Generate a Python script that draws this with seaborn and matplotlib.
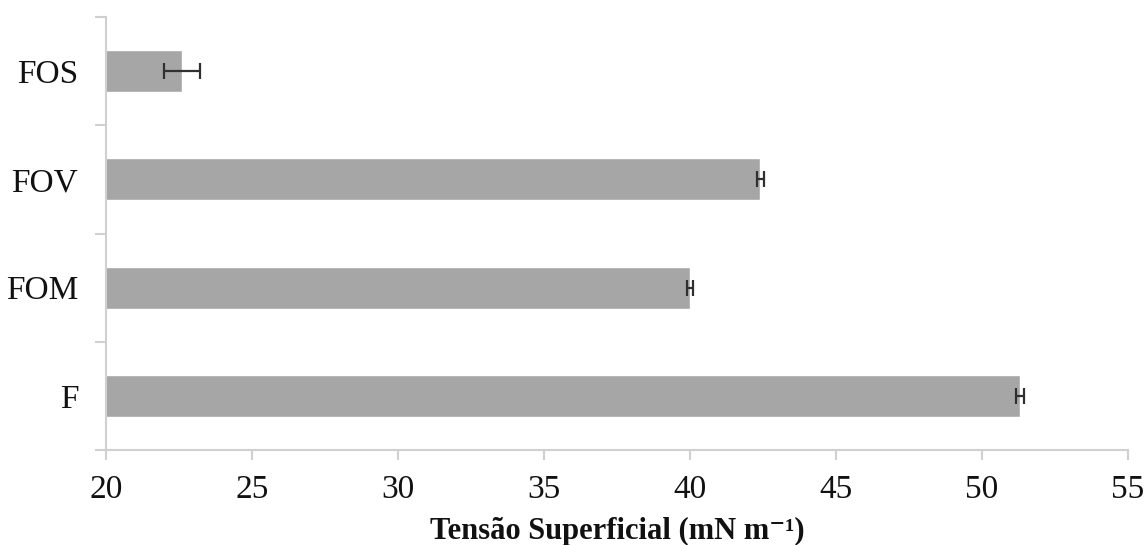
import matplotlib
matplotlib.use("Agg")
import matplotlib.pyplot as plt
import seaborn as sns
import pandas as pd
import numpy as np
from matplotlib.ticker import FixedLocator

categories = ["FOS", "FOV", "FOM", "F"]
values = [22.6, 42.4, 40.0, 51.3]
errors = [0.63, 0.12, 0.10, 0.15]
x_ticks = [20, 25, 30, 35, 40, 45, 50, 55]
xlabel = "Tensão Superficial (mN m⁻¹)"

sns.set_theme(style="white")
plt.rcParams["font.family"] = ["Liberation Serif", "DejaVu Serif"]

df = pd.DataFrame({"cat": categories, "val": values, "err": errors})

fig = plt.figure(figsize=(11.46, 5.45), dpi=100)
ax = fig.add_axes([106 / 1146, 1 - 450 / 545, (1128 - 106) / 1146, (450 - 17) / 545])

sns.barplot(data=df, x="val", y="cat", order=categories, orient="h",
            color="#a6a6a6", saturation=1, width=0.39, ax=ax, errorbar=None)

ypos = np.arange(len(categories))
ax.errorbar(df["val"], ypos, xerr=df["err"], fmt="none", ecolor="#303030",
            elinewidth=1.6, capsize=6, capthick=1.6)

ax.set_xlim(20, 55)
ax.set_ylim(len(categories) - 0.5, -0.5)
ax.set_xticks(x_ticks)
ax.set_xticklabels([str(t) for t in x_ticks], fontsize=24, color="#111111")
ax.set_yticks(ypos)
ax.set_yticklabels(categories, fontsize=24, color="#111111")
ax.yaxis.set_minor_locator(FixedLocator(np.arange(-0.5, len(categories), 1.0)))
ax.tick_params(axis="y", which="major", length=0, pad=20)
ax.tick_params(axis="y", which="minor", length=8, width=1.5, color="#d0d0d0", direction="out", left=True)
ax.tick_params(axis="x", which="major", length=7, width=1.5, color="#d0d0d0", direction="out", bottom=True, pad=11)

ax.set_xlabel(xlabel, fontsize=22, fontweight="bold", labelpad=8, color="#111111")
ax.set_ylabel("")

for s in ["top", "right"]:
    ax.spines[s].set_visible(False)
for s in ["left", "bottom"]:
    ax.spines[s].set_color("#d0d0d0")
    ax.spines[s].set_linewidth(1.5)

fig.savefig("out.png", dpi=100)
